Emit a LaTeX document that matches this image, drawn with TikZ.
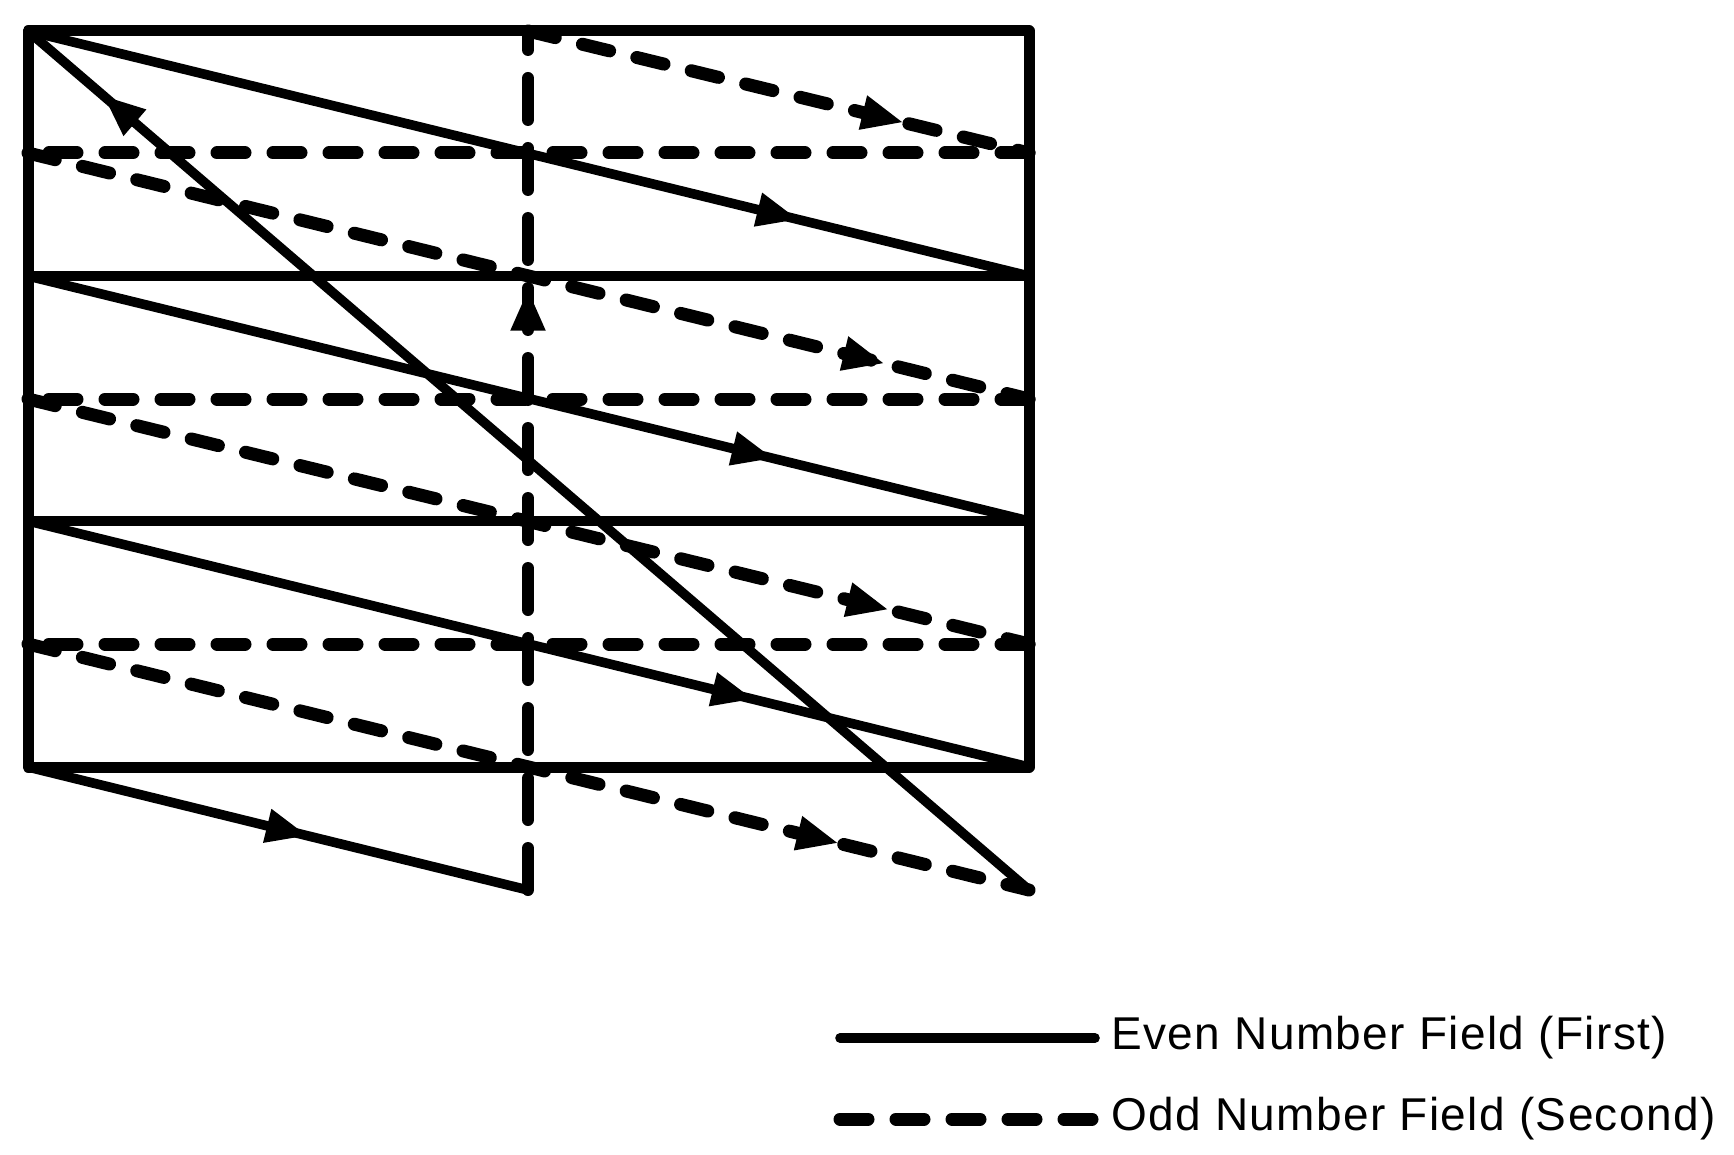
\documentclass[tikz,border=0pt]{standalone}
\usepackage{fontspec}
\setmainfont{Liberation Sans}
\newfontfamily\legfont[LetterSpace=3]{Liberation Sans}
\usetikzlibrary{arrows.meta,decorations.markings}
\begin{document}
\begin{tikzpicture}[x=0.5pt,y=-0.5pt,
  even/.style={line width=4.8pt, line cap=round, line join=round},
  odd/.style={line width=6.5pt, line cap=round, dash pattern=on 14pt off 14pt},
  oddv/.style={line width=6pt, line cap=round, dash pattern=on 21pt off 14pt},
  frame/.style={line width=5.5pt, line join=round},
  arr/.style={postaction={decorate,decoration={markings,mark=at position #1 with {\arrow{Triangle[length=21pt,width=16pt]}}}}},
  legend/.style={anchor=west, inner sep=0pt, font=\legfont\fontsize{23}{28}\selectfont}]
\useasboundingbox (0,0) rectangle (1734,1155);
\coordinate (TL) at (28,31);  \coordinate (TR) at (1029,31);
\coordinate (L1) at (28,276); \coordinate (R1) at (1029,276);
\coordinate (L2) at (28,521); \coordinate (R2) at (1029,521);
\coordinate (BL) at (28,767); \coordinate (BR) at (1029,767);
\coordinate (La) at (28,153); \coordinate (Ra) at (1029,153);
\coordinate (Lb) at (28,399); \coordinate (Rb) at (1029,399);
\coordinate (Lc) at (28,644); \coordinate (Rc) at (1029,644);
\coordinate (MT) at (528,31); \coordinate (MB) at (528,890);
\coordinate (EB) at (1029,890);
% frame
\draw[frame] (TL) rectangle (BR);
% even field horizontal retraces
\draw[even] (R1) -- (L1);
\draw[even] (R2) -- (L2);
% even field scan lines
\draw[even,arr=0.77] (TL) -- (R1);
\draw[even,arr=0.745] (L1) -- (R2);
\draw[even,arr=0.725] (L2) -- (BR);
\draw[even,arr=0.56] (BL) -- (MB);
% odd field
\draw[oddv,arr=0.70] (MB) -- (MT);
\draw[odd,arr=0.75] (MT) -- (Ra);
\draw[odd] (Ra) -- (La);
\draw[odd,arr=0.856] (La) -- (Rb);
\draw[odd] (Rb) -- (Lb);
\draw[odd,arr=0.86] (Lb) -- (Rc);
\draw[odd] (Rc) -- (Lc);
\draw[odd,arr=0.81] (Lc) -- (EB);
% vertical retrace
\draw[even,arr=0.925] (EB) -- (TL);
% legend
\node[legend] (t1) at (1111,1038) {Even Number Field (First)};
\node[legend] (t2) at (1111,1119) {Odd Number Field (Second)};
\coordinate (s1) at (840,1038);
\coordinate (s2) at (840,1119);
\draw[even] (s1) -- ([xshift=-8pt]t1.west);
\draw[odd] (s2) -- ([xshift=-8pt]t2.west);
\end{tikzpicture}
\end{document}
